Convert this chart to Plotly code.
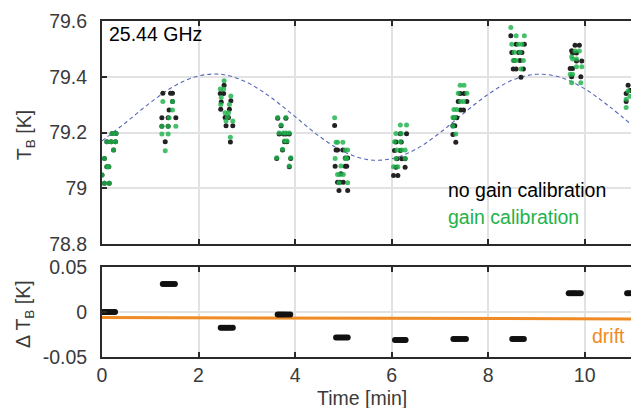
import plotly.graph_objects as go

# ---------------- data ----------------
# model curve (dashed)
model_t = [0, 0.5, 1, 1.5, 2, 2.5, 3, 3.5, 4, 4.5, 5, 5.5, 6, 6.5, 7, 7.5, 8, 8.5, 9, 9.5, 10, 10.5, 11]
model_v = [79.170, 79.237, 79.307, 79.367, 79.403, 79.408, 79.380, 79.326, 79.257, 79.187, 79.132, 79.103,
           79.106, 79.140, 79.199, 79.270, 79.337, 79.388, 79.409, 79.398, 79.357, 79.295, 79.224]

# gain calibration (green)
green_t = [0.00, 0.05, 0.05, 0.15, 0.10, 0.14, 0.24, 0.10, 0.19, 0.28, 0.21, 0.29,
           1.26, 1.46, 1.46, 1.39, 1.24, 1.37, 1.53, 1.24, 1.37, 1.31,
           2.53, 2.45, 2.52, 2.67, 2.47, 2.64, 2.46, 2.55, 2.62, 2.57, 2.71, 2.66, 2.60,
           3.64, 3.81, 3.71, 3.67, 3.76, 3.81, 3.88, 3.78, 3.83, 3.74, 3.62, 3.91, 3.88,
           4.82, 4.85, 4.88, 4.99, 5.04, 5.09, 4.83, 5.04, 5.07, 4.95, 4.88, 4.93, 5.00, 5.09, 4.91,
           6.18, 6.31, 6.09, 6.20, 6.06, 6.18, 6.21, 6.28, 6.11, 6.09, 6.28, 6.04, 6.13,
           7.42, 7.50, 7.38, 7.56, 7.43, 7.49, 7.29, 7.35, 7.27, 7.31, 7.27, 7.33,
           8.47, 8.58, 8.75, 8.49, 8.63, 8.70, 8.54, 8.66, 8.52, 8.58, 8.73, 8.68,
           9.80, 9.89, 9.73, 9.83, 9.75, 9.94, 9.83, 9.70, 9.75, 9.92, 9.73,
           10.90, 10.86, 10.86, 10.94]
green_v = [79.048, 79.107, 79.018, 79.018, 79.077, 79.077, 79.137, 79.167, 79.167, 79.167, 79.197, 79.197,
           79.311, 79.311, 79.281, 79.253, 79.223, 79.223, 79.223, 79.195, 79.195, 79.135,
           79.386, 79.356, 79.356, 79.331, 79.326, 79.301, 79.301, 79.271, 79.271, 79.241, 79.241, 79.183, 79.256,
           79.254, 79.254, 79.227, 79.198, 79.198, 79.198, 79.198, 79.170, 79.170, 79.140, 79.110, 79.110, 79.080,
           79.253, 79.165, 79.165, 79.165, 79.137, 79.137, 79.107, 79.107, 79.107, 79.080, 79.050, 79.050, 79.050, 79.020, 79.020,
           79.227, 79.227, 79.197, 79.197, 79.167, 79.167, 79.137, 79.137, 79.137, 79.107, 79.107, 79.077, 79.077,
           79.370, 79.370, 79.341, 79.341, 79.311, 79.311, 79.283, 79.283, 79.254, 79.254, 79.223, 79.195,
           79.577, 79.547, 79.547, 79.517, 79.517, 79.517, 79.488, 79.488, 79.458, 79.458, 79.458, 79.428,
           79.492, 79.492, 79.472, 79.464, 79.464, 79.436, 79.436, 79.409, 79.409, 79.379, 79.379,
           79.349, 79.319, 79.290, 79.330]

# no gain calibration (black)
black_t = [0.00, 0.05, 0.05, 0.15, 0.10, 0.14, 0.24, 0.10, 0.19, 0.28, 0.21, 0.29,
           1.26, 1.46, 1.46, 1.39, 1.24, 1.37, 1.53, 1.24, 1.37, 1.31, 1.42,
           2.53, 2.45, 2.52, 2.67, 2.47, 2.64, 2.46, 2.55, 2.62, 2.57, 2.71, 2.66,
           3.64, 3.81, 3.71, 3.67, 3.76, 3.81, 3.88, 3.78, 3.83, 3.74, 3.62, 3.91, 3.88,
           4.82, 4.85, 4.88, 4.99, 5.04, 5.09, 4.83, 5.04, 5.07, 4.95, 4.88, 4.93, 5.00, 5.09, 4.91,
           6.18, 6.31, 6.09, 6.20, 6.06, 6.18, 6.21, 6.28, 6.11, 6.09, 6.28, 6.04, 6.13,
           7.42, 7.50, 7.38, 7.56, 7.43, 7.49, 7.29, 7.35, 7.27, 7.31, 7.27, 7.33,
           8.47, 8.58, 8.75, 8.49, 8.63, 8.70, 8.54, 8.66, 8.52, 8.58, 8.73, 8.68,
           9.80, 9.89, 9.73, 9.83, 9.75, 9.94, 9.83, 9.70, 9.75, 9.92, 9.73,
           10.90, 10.86, 10.86, 10.94]
black_v = [79.048, 79.107, 79.018, 79.018, 79.077, 79.077, 79.137, 79.167, 79.167, 79.167, 79.197, 79.197,
           79.341, 79.341, 79.311, 79.281, 79.253, 79.253, 79.253, 79.223, 79.223, 79.167, 79.341,
           79.370, 79.340, 79.340, 79.314, 79.310, 79.284, 79.284, 79.254, 79.254, 79.224, 79.224, 79.166,
           79.251, 79.251, 79.224, 79.195, 79.195, 79.195, 79.195, 79.167, 79.167, 79.137, 79.107, 79.107, 79.077,
           79.225, 79.137, 79.137, 79.137, 79.109, 79.109, 79.079, 79.079, 79.079, 79.052, 79.022, 79.022, 79.022, 78.992, 78.992,
           79.196, 79.196, 79.166, 79.166, 79.136, 79.136, 79.106, 79.106, 79.106, 79.076, 79.076, 79.046, 79.046,
           79.340, 79.340, 79.311, 79.311, 79.281, 79.281, 79.253, 79.253, 79.224, 79.224, 79.193, 79.165,
           79.547, 79.517, 79.517, 79.487, 79.487, 79.487, 79.458, 79.458, 79.428, 79.428, 79.428, 79.398,
           79.513, 79.513, 79.493, 79.485, 79.485, 79.457, 79.457, 79.430, 79.430, 79.400, 79.400,
           79.370, 79.340, 79.311, 79.351]

# difference panel
dT_t = [0.00, 0.04, 0.08, 0.12, 0.16, 0.20, 0.24, 0.27,
        1.26, 1.30, 1.34, 1.38, 1.42, 1.46, 1.51,
        2.46, 2.50, 2.54, 2.58, 2.62, 2.66, 2.71,
        3.64, 3.68, 3.72, 3.76, 3.80, 3.85, 3.90,
        4.85, 4.89, 4.93, 4.97, 5.01, 5.05, 5.09,
        6.07, 6.11, 6.15, 6.19, 6.23, 6.26, 6.29,
        7.28, 7.32, 7.36, 7.40, 7.45, 7.50, 7.54,
        8.50, 8.54, 8.58, 8.62, 8.66, 8.70, 8.74,
        9.67, 9.71, 9.75, 9.79, 9.83, 9.88, 9.92,
        10.88, 10.92, 10.96]
dT_v = [0.000, 0.000, 0.000, 0.000, 0.000, 0.000, 0.000, 0.000,
        0.031, 0.031, 0.031, 0.031, 0.031, 0.031, 0.031,
        -0.0175, -0.0175, -0.0175, -0.0175, -0.0175, -0.0175, -0.0175,
        -0.0027, -0.0027, -0.0027, -0.0027, -0.0027, -0.0027, -0.0027,
        -0.0284, -0.0284, -0.0284, -0.0284, -0.0284, -0.0284, -0.0284,
        -0.031, -0.031, -0.031, -0.031, -0.031, -0.031, -0.031,
        -0.030, -0.030, -0.030, -0.030, -0.030, -0.030, -0.030,
        -0.030, -0.030, -0.030, -0.030, -0.030, -0.030, -0.030,
        0.0208, 0.0208, 0.0208, 0.0208, 0.0208, 0.0208, 0.0208,
        0.0208, 0.0208, 0.0208]

drift_t = [0, 11]
drift_v = [-0.0062, -0.0077]

x_ticks = [0, 2, 4, 6, 8, 10]
y1_ticks = [78.8, 79.0, 79.2, 79.4, 79.6]
y1_labels = ["78.8", "79", "79.2", "79.4", "79.6"]
y2_ticks = [-0.05, 0, 0.05]
y2_labels = ["-0.05", "0", "0.05"]

# ---------------- styles ----------------
FONT = "Liberation Sans, Arial, sans-serif"
FS = 19.5
GREEN = "#1fb24a"
ORANGE = "#f08a24"
AX = "#2a2a2a"
GRID = "#e2e2e2"
TXT = "#3a3a3a"

fig = go.Figure()
fig.add_trace(go.Scatter(x=model_t, y=model_v, mode="lines", line=dict(color="#5568b8", width=1.1, dash="4px,3px", shape="spline"),
                         xaxis="x", yaxis="y", hoverinfo="skip"))
fig.add_trace(go.Scatter(x=black_t, y=black_v, mode="markers", marker=dict(color="#222222", size=5),
                         xaxis="x", yaxis="y"))
fig.add_trace(go.Scatter(x=green_t, y=green_v, mode="markers", marker=dict(color=GREEN, size=5, opacity=0.82),
                         xaxis="x", yaxis="y"))
fig.add_trace(go.Scatter(x=drift_t, y=drift_v, mode="lines", line=dict(color=ORANGE, width=3),
                         xaxis="x2", yaxis="y2"))
fig.add_trace(go.Scatter(x=dT_t, y=dT_v, mode="markers", marker=dict(color="#111111", size=6),
                         xaxis="x2", yaxis="y2"))

axcommon = dict(showline=True, linecolor=AX, linewidth=2, ticks="inside", ticklen=5, tickwidth=2,
                tickcolor=AX, showgrid=True, gridcolor=GRID, gridwidth=1.5, zeroline=False,
                tickfont=dict(family=FONT, size=FS, color=TXT))

fig.update_layout(
    width=631, height=408,
    margin=dict(l=102, r=0, t=21, b=51),
    paper_bgcolor="white", plot_bgcolor="white",
    showlegend=False,
    xaxis=dict(domain=[0, 1], range=[0, 10.96], tickvals=x_ticks, showticklabels=False,
               anchor="y", mirror="ticks", **axcommon),
    yaxis=dict(domain=[0.336, 1], range=[78.8, 79.6], tickvals=y1_ticks, ticktext=y1_labels,
               anchor="x", ticklabelstandoff=9, **axcommon),
    xaxis2=dict(domain=[0, 1], range=[0, 10.96], tickvals=x_ticks, anchor="y2", mirror="ticks",
                ticklabelstandoff=0, **axcommon),
    yaxis2=dict(domain=[0, 0.268], range=[-0.05, 0.05], tickvals=y2_ticks, ticktext=y2_labels,
                anchor="x2", ticklabelstandoff=9, **axcommon),
)

ann = [
    dict(text="T<sub>B</sub> [K]", xref="paper", yref="paper", x=-0.1456, y=0.66, textangle=-90,
         font=dict(family=FONT, size=FS, color=TXT)),
    dict(text="Δ T<sub>B</sub> [K]", xref="paper", yref="paper", x=-0.1456, y=0.128, textangle=-90,
         font=dict(family=FONT, size=FS, color=TXT)),
    dict(text="Time [min]", xref="paper", yref="paper", x=0.4915, y=-0.122,
         font=dict(family=FONT, size=FS, color=TXT)),
    dict(text="25.44 GHz", xref="x", yref="y", x=0.11, y=79.553, xanchor="left",
         font=dict(family=FONT, size=FS, color="black")),
    dict(text="no gain calibration", xref="x", yref="y", x=7.12, y=78.994, xanchor="left",
         font=dict(family=FONT, size=FS, color="black")),
    dict(text="gain calibration", xref="x", yref="y", x=7.12, y=78.897, xanchor="left",
         font=dict(family=FONT, size=FS, color=GREEN)),
    dict(text="drift", xref="x2", yref="y2", x=10.11, y=-0.0265, xanchor="left",
         font=dict(family=FONT, size=FS, color=ORANGE)),
]
for a in ann:
    a.setdefault("showarrow", False)
    a.setdefault("xanchor", "center")
    a.setdefault("yanchor", "middle")
fig.update_layout(annotations=ann)

fig.write_html("out.html", config={"displayModeBar": False},
               post_script="document.body.style.margin='0';document.body.style.overflow='hidden';")
